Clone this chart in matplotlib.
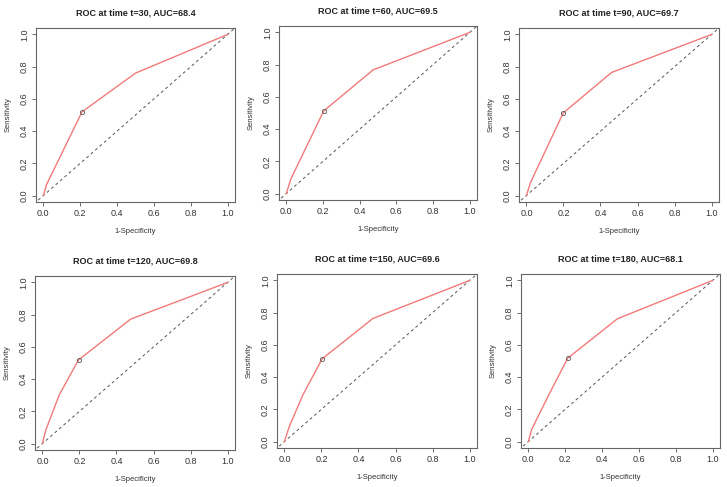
import matplotlib.pyplot as plt

plt.rcParams['font.family'] = ['Liberation Sans', 'DejaVu Sans']

times = [30, 60, 90, 120, 150, 180]
aucs = [68.4, 69.5, 69.7, 69.8, 69.6, 68.1]

# ROC points (1-specificity, sensitivity)
fpr = [
    [0.0, 0.018, 0.21, 0.50, 1.0],
    [0.0, 0.024, 0.204, 0.474, 1.0],
    [0.0, 0.022, 0.199, 0.46, 1.0],
    [0.0, 0.018, 0.09, 0.195, 0.476, 1.0],
    [0.0, 0.027, 0.10, 0.204, 0.478, 1.0],
    [0.0, 0.018, 0.108, 0.213, 0.483, 1.0],
]
tpr = [
    [0.0, 0.07, 0.52, 0.76, 1.0],
    [0.0, 0.089, 0.513, 0.768, 1.0],
    [0.0, 0.081, 0.513, 0.764, 1.0],
    [0.0, 0.083, 0.30, 0.519, 0.772, 1.0],
    [0.0, 0.095, 0.29, 0.514, 0.764, 1.0],
    [0.0, 0.076, 0.283, 0.517, 0.762, 1.0],
]
# cut-off point marked with a circle
cut_x = [0.21, 0.204, 0.199, 0.195, 0.204, 0.213]
cut_y = [0.52, 0.513, 0.513, 0.519, 0.514, 0.517]

W, H = 727, 487
# axes boxes in pixels: left, right, top, bottom
boxes = [
    (36, 235, 28, 202),
    (279, 477, 26, 200),
    (519, 719, 28, 202),
    (35, 235, 276, 450),
    (277, 477, 274, 448),
    (521, 720, 274, 448),
]

fig = plt.figure(figsize=(W / 100, H / 100), dpi=100)
ticks = [0.0, 0.2, 0.4, 0.6, 0.8, 1.0]
txt = '#333333'

for i in range(6):
    l, r, t, b = boxes[i]
    ax = fig.add_axes([l / W, 1 - b / H, (r - l) / W, (b - t) / H])
    ax.plot([-0.1, 1.1], [-0.1, 1.1], color='#555555', lw=0.7, ls=(0, (3, 3)))
    ax.plot(fpr[i], tpr[i], color='#f27a7a', lw=1.0)
    ax.plot(cut_x[i], cut_y[i], 'o', ms=3, mfc='none', mec='#555555', mew=0.6)
    ax.set_xlim(-0.04, 1.04)
    ax.set_ylim(-0.04, 1.04)
    ax.set_xticks(ticks)
    ax.set_yticks(ticks)
    ax.set_xticklabels(['%.1f' % v for v in ticks])
    ax.set_yticklabels(['%.1f' % v for v in ticks], rotation=90, va='center')
    ax.tick_params(labelsize=6.5, colors='#555555', labelcolor=txt, length=3, width=0.6, pad=2)
    for s in ax.spines.values():
        s.set_color('#666666')
        s.set_linewidth(0.8)
    ax.set_xlabel('1-Specificity', fontsize=5.5, color=txt, labelpad=7)
    ax.set_ylabel('Sensitivity', fontsize=5.5, color=txt, labelpad=6)
    ax.set_title('ROC at time t=%d, AUC=%.1f' % (times[i], aucs[i]),
                 fontsize=6.5, fontweight='bold', color='#222222', pad=9)

fig.savefig('out.png', dpi=100)
